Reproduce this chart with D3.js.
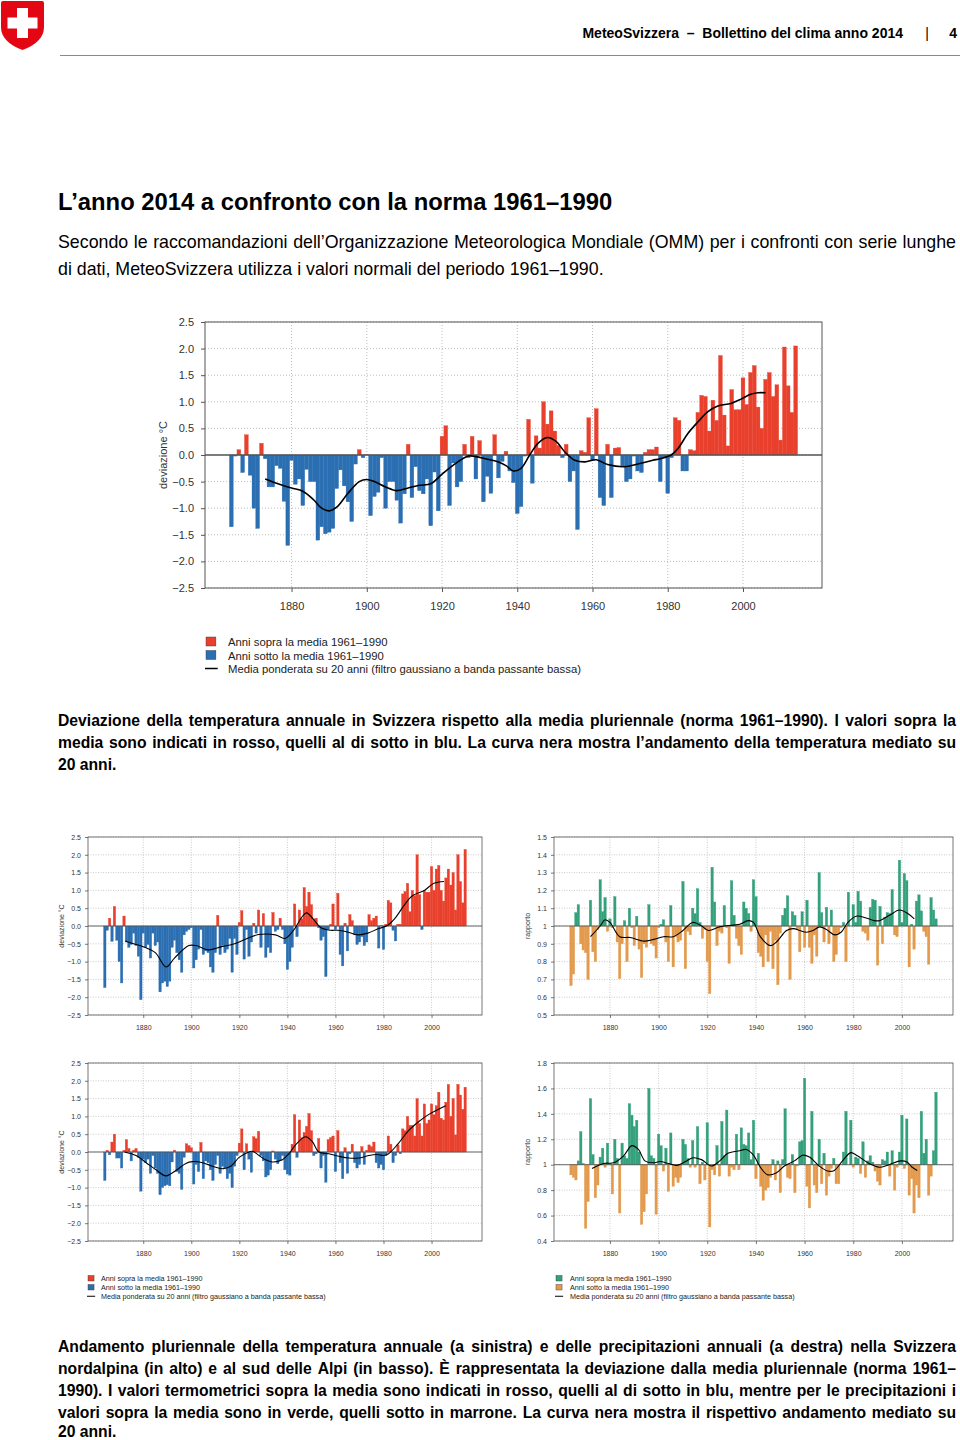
<!DOCTYPE html>
<html><head><meta charset="utf-8">
<script src="https://cdn.jsdelivr.net/npm/d3@7"></script>
<style>
body{margin:0;background:#fff;}
svg{display:block;}
</style></head>
<body>
<svg id="svg" width="960" height="1440"></svg>
<script>
// ---------------- DATA ----------------
const firstYear = 1864, lastYear = 2014;
const years = d3.range(firstYear, lastYear + 1);
const xTickYears = [1880, 1900, 1920, 1940, 1960, 1980, 2000];

const tempTicks = [-2.5, -2.0, -1.5, -1.0, -0.5, 0.0, 0.5, 1.0, 1.5, 2.0, 2.5];
const precNTicks = [0.5, 0.6, 0.7, 0.8, 0.9, 1.0, 1.1, 1.2, 1.3, 1.4, 1.5];
const precSTicks = [0.4, 0.6, 0.8, 1.0, 1.2, 1.4, 1.6, 1.8];

// Switzerland, annual temperature deviation (°C), 1864-2014
const tempCH = [
  -1.35,-0.02,0.1,-0.33,0.38,-0.38,
  -1.0,-1.38,0.22,-0.07,-0.6,-0.6,-0.2,-0.25,-0.87,-1.7,
  -0.1,-0.55,-0.45,-0.95,-0.27,-0.5,-0.5,-1.6,-1.35,-1.48,
  -1.45,-1.38,-0.63,-0.28,-0.58,-0.88,-1.25,-0.17,0.1,-0.05,
  0.01,-1.14,-0.78,-0.7,-0.05,-1.0,-0.5,-0.5,-0.85,-1.28,
  -0.73,0.2,-0.8,-0.22,-0.67,-0.73,-0.45,-1.33,-0.32,-1.05,
  0.35,0.55,-0.95,-0.15,-0.6,-0.5,0.2,-0.05,0.35,-0.45,
  0.27,-0.88,-0.4,-0.72,0.38,-0.43,-0.12,0.07,-0.3,-0.52,
  -1.1,-0.97,-0.02,0.67,-0.53,0.36,0.13,1.0,0.58,0.83,
  0.45,0.18,-0.05,0.2,-0.5,-0.3,-1.4,0.08,0.05,0.7,
  -0.1,0.87,-0.8,-0.95,0.2,-0.8,0.13,0.14,-0.22,-0.5,
  -0.45,-0.02,-0.3,-0.33,0.05,0.1,0.1,0.15,-0.5,-0.05,
  -0.72,-0.05,0.7,0.65,-0.3,-0.3,0.1,0.08,0.8,1.12,
  1.1,0.45,1.03,0.65,1.87,0.75,0.17,1.23,0.85,0.85,
  1.45,0.95,1.55,1.68,0.9,0.5,1.42,1.55,1.1,1.32,
  0.28,2.03,1.3,0.8,2.05
];
const curveCH = [
  [1873,-0.45],[1876,-0.53],[1880,-0.62],[1883,-0.68],[1886,-0.85],[1888,-1.0],[1890,-1.05],[1892,-0.98],
  [1895,-0.72],[1898,-0.5],[1900,-0.46],[1902,-0.5],[1905,-0.6],[1908,-0.67],[1911,-0.62],[1914,-0.57],
  [1917,-0.54],[1920,-0.36],[1923,-0.19],[1927,-0.02],[1929,-0.03],[1932,-0.08],[1935,-0.13],[1937,-0.2],
  [1939,-0.3],[1941,-0.25],[1943.3,0],[1945.5,0.22],[1948,0.33],[1950.4,0.25],[1952.6,0.06],[1955.3,-0.1],
  [1958,-0.13],[1961,-0.09],[1964,-0.18],[1968.5,-0.22],[1972,-0.17],[1976,-0.1],[1978,-0.07],[1980.9,0],
  [1982.7,0.12],[1985.3,0.4],[1988,0.62],[1990.6,0.81],[1993.3,0.92],[1996.8,0.97],[1999.5,1.05],
  [2002,1.14],[2004,1.17],[2006,1.17]
];

// North of the Alps, temperature deviation (°C)
const tempN = [
  -1.73,-0.12,0.22,-0.43,0.55,-0.4,
  -1.0,-1.6,0.28,-0.45,-0.6,-0.52,-0.2,-0.55,-0.85,-2.07,
  -0.2,-0.6,-0.52,-0.9,-0.2,-0.55,-0.45,-1.85,-1.6,-1.55,
  -1.7,-1.55,-0.6,-0.4,-0.75,-0.95,-1.3,-0.25,-0.15,-0.1,
  -0.05,-1.18,-0.95,-0.65,-0.1,-0.8,-0.7,-0.75,-1.15,-1.3,
  -0.75,0.3,-0.8,-0.55,-0.75,-0.65,-0.35,-1.3,-0.35,-0.8,
  0.1,0.43,-0.93,-0.1,-0.85,-0.45,0.08,-0.2,0.45,-0.6,
  0.35,-0.88,-0.6,-0.75,0.38,-0.15,-0.1,0.22,-0.1,-0.5,
  -1.22,-1.0,-0.6,0.62,-0.3,0.45,0.2,1.08,0.55,0.95,
  0.6,0.2,0.22,-0.05,-0.4,-0.3,-1.42,-0.1,0.05,0.62,
  -0.1,0.92,-0.8,-1.12,0.08,-0.7,0.32,0.15,-0.25,-0.52,
  -0.45,-0.3,-0.55,-0.45,0.32,0.15,0.22,0.28,-0.62,0.02,
  -0.66,0.05,0.72,0.65,-0.12,-0.42,0.05,0.05,0.9,0.97,
  1.2,0.4,1.0,0.85,2.0,0.88,-0.1,1.0,0.95,0.95,
  1.67,1.0,1.6,1.7,1.0,0.7,1.35,1.6,1.15,1.5,
  0.45,2.0,1.25,0.65,2.15
];
const curveTN = [
  [1872.5,-0.42],[1876,-0.5],[1880,-0.58],[1885,-0.75],[1889.5,-1.15],[1893,-0.9],[1899,-0.55],[1902,-0.55],
  [1907,-0.67],[1912.7,-0.58],[1918,-0.5],[1924,-0.33],[1928,-0.24],[1935,-0.25],[1939,-0.35],[1943,-0.08],
  [1946,0.25],[1948,0.37],[1950.7,0.2],[1954,-0.05],[1958,-0.12],[1961,-0.12],[1965,-0.17],[1969.4,-0.25],
  [1973.5,-0.2],[1977.7,-0.08],[1981.8,0.02],[1984.6,0.2],[1988.8,0.6],[1992,0.85],[1997,1.0],[2001,1.2],
  [2005.2,1.25]
];

// North of the Alps, precipitation ratio
const precN = [
  0.665,0.73,1.075,1.12,0.9,0.865,
  0.85,0.7,1.145,0.855,0.8,0.98,1.26,1.08,1.16,0.97,
  1.04,0.99,1.165,0.91,0.705,0.9,1.03,0.8,1.1,0.99,
  0.89,1.055,0.87,0.71,0.9,0.88,1.12,0.9,0.89,0.82,
  0.99,1.01,1.035,0.91,0.8,1.115,0.77,0.94,0.91,0.92,
  1.25,0.76,0.97,0.95,1.1,1.07,1.21,1.02,0.93,0.98,
  0.8,0.62,1.33,1.135,0.89,0.97,0.96,1.115,0.99,0.79,
  1.255,1.06,0.93,0.89,0.84,1.135,1.1,1.07,0.97,1.26,
  1.165,0.85,0.83,0.77,0.95,0.8,0.97,0.76,0.92,0.67,
  0.96,1.06,1.1,1.17,0.7,1.08,1.06,0.98,0.855,1.08,
  0.88,1.145,0.88,0.79,0.95,0.83,1.3,1.075,0.91,1.105,
  0.9,1.09,0.8,0.84,0.96,0.99,1.02,0.8,1.19,1.0,
  1.12,1.02,1.195,1.14,0.97,0.96,0.92,1.105,1.15,1.145,
  0.78,1.11,0.9,1.05,1.075,1.07,1.205,0.95,0.94,1.37,
  1.02,1.295,1.255,0.77,1.01,0.87,1.14,1.175,1.085,0.97,
  0.94,0.785,1.16,1.09,1.04
];
const curvePN = [
  [1872,0.94],[1876,1.0],[1878,1.035],[1880,1.02],[1884,0.94],[1888.3,0.935],[1894,0.915],[1898,0.925],
  [1902,0.94],[1906,0.94],[1910,0.975],[1914,1.02],[1917.7,1.0],[1920.5,0.975],[1925,0.995],[1930.6,1.005],
  [1933.4,1.01],[1936.8,1.03],[1939,1.02],[1941.8,0.94],[1946,0.89],[1948.4,0.91],[1952.6,0.975],
  [1955.4,0.985],[1958,0.975],[1960.7,0.965],[1963.5,0.975],[1966.2,0.995],[1969,0.98],[1972.4,0.95],
  [1975,0.965],[1977.8,1.02],[1981.2,1.055],[1985.3,1.045],[1988.7,1.03],[1990.8,1.03],[1994.9,1.06],
  [1999,1.09],[2002.4,1.07],[2005.1,1.04]
];

// South of the Alps, temperature deviation (°C)
const tempS = [
  -0.8,0.05,-0.08,0.28,0.5,-0.17,
  -0.17,-0.45,0.05,0.35,0.1,-0.25,0.05,0.1,-0.15,-1.1,
  -0.2,-0.3,-0.2,-0.6,-0.1,-0.45,-0.6,-1.2,-1.0,-0.95,
  -0.92,-0.95,-0.28,0.05,-0.55,-0.6,-1.05,-0.15,0.23,0.18,
  0.12,-0.9,-0.35,-0.55,0.27,-0.75,-0.25,-0.3,-0.5,-0.8,
  -0.35,-0.1,-0.6,-0.4,-0.45,-0.75,-0.6,-1.0,-0.4,-0.1,
  0.25,0.65,-0.5,0.23,-0.2,-0.57,0.43,0.38,0.58,-0.1,
  -0.25,-0.7,-0.65,-0.5,0.03,-0.2,-0.33,-0.25,-0.1,-0.5,
  -0.62,-0.65,0.22,1.05,-0.15,0.9,0.4,0.55,0.72,1.08,
  0.6,-0.1,-0.05,0.38,-0.45,-0.1,-0.85,0.35,0.4,0.45,
  -0.55,0.6,-0.3,-0.75,0.12,-0.6,-0.05,0.22,-0.3,-0.45,
  -0.35,0.15,-0.35,0.05,0.2,0.15,0.28,-0.3,-0.45,-0.35,
  -0.5,-0.1,0.45,0.22,-0.3,-0.1,0.2,-0.05,0.65,0.6,
  1.0,0.75,0.75,0.45,1.5,0.8,0.45,1.35,0.8,0.9,
  1.35,1.05,1.3,1.68,0.95,0.9,1.4,1.9,1.0,1.5,
  0.48,1.9,1.6,1.2,1.82
];
const curveTS = [
  [1872.2,0.0],[1877,-0.1],[1881.2,-0.3],[1885.3,-0.5],[1889.4,-0.67],[1893.6,-0.52],[1897.7,-0.32],
  [1900.5,-0.27],[1904.7,-0.3],[1908.8,-0.4],[1913,-0.47],[1916.4,-0.4],[1919.9,-0.15],[1923.3,-0.02],
  [1925.4,0.02],[1928.2,-0.1],[1930.9,-0.22],[1933.7,-0.28],[1937.9,-0.22],[1940.6,-0.05],[1943.4,0.2],
  [1947.5,0.43],[1950.3,0.3],[1953.1,0.0],[1957.2,-0.05],[1961.4,-0.12],[1965.5,-0.17],[1969.7,-0.17],
  [1973.8,-0.1],[1977.3,-0.07],[1980,-0.1],[1982.1,-0.05],[1986.3,0.25],[1990.4,0.6],[1994.6,0.85],
  [1998.7,1.05],[2002.9,1.2],[2005.9,1.3]
];

// South of the Alps, precipitation ratio
const precS = [
  0.92,0.9,0.88,1.03,1.26,1.01,
  0.5,0.71,1.52,1.08,0.74,0.84,1.06,1.13,0.98,1.17,
  1.01,0.77,1.2,1.05,0.62,1.17,1.07,1.05,1.48,1.39,
  1.3,1.35,1.1,0.53,0.63,0.77,1.6,1.07,1.05,0.61,
  1.24,1.15,0.95,1.13,0.79,1.25,0.83,0.9,0.86,0.9,
  1.2,1.16,1.05,0.98,1.19,0.98,1.3,0.85,1.02,0.88,
  1.33,0.51,0.96,0.92,1.15,0.91,1.34,1.07,1.43,0.91,
  0.98,0.96,1.24,0.96,1.29,1.16,1.15,1.25,1.04,1.35,
  0.89,1.09,0.83,0.72,0.8,0.82,0.9,1.04,0.88,1.03,
  0.78,1.04,1.44,0.9,0.89,1.08,0.78,0.99,1.18,1.19,
  1.68,0.83,0.66,1.42,0.84,0.78,1.2,0.85,1.09,0.76,
  0.91,0.97,1.05,0.85,0.85,1.0,1.1,1.42,1.0,1.35,
  0.98,1.06,1.05,0.93,1.18,0.9,1.03,1.07,1.02,0.95,
  0.87,0.84,1.04,1.03,1.1,0.91,1.11,0.8,0.98,1.1,
  1.39,0.97,1.36,0.76,0.89,0.62,0.84,0.74,1.42,1.09,
  1.2,0.76,0.91,1.11,1.57
];
const curvePS = [
  [1872.6,0.97],[1877.4,1.01],[1881.5,1.015],[1885.6,1.07],[1889,1.15],[1891.7,1.12],[1894.4,1.03],
  [1897.8,1.015],[1900.6,1.025],[1904,1.01],[1907.4,0.995],[1911.5,1.03],[1914.2,1.055],[1917.6,1.04],
  [1921.7,0.99],[1925.1,1.03],[1928.5,1.09],[1933.3,1.11],[1936,1.12],[1938.8,1.08],[1942.2,0.97],
  [1944.9,0.92],[1948.3,0.935],[1951.7,0.99],[1955.8,1.03],[1959.2,1.075],[1962,1.06],[1966,0.99],
  [1969.5,0.95],[1972.2,0.955],[1975.6,1.03],[1979,1.095],[1981.7,1.07],[1986.5,1.01],[1990.6,0.98],
  [1994.7,1.0],[1999.5,1.03],[2002.2,1.02],[2004.2,0.98],[2006.3,0.955]
];

const legendTemp = ["Anni sopra la media 1961\u20131990", "Anni sotto la media 1961\u20131990",
  "Media ponderata su 20 anni (filtro gaussiano a banda passante bassa)"];

// ---------------- STYLE ----------------
const FONT = '"Liberation Sans", Arial, Helvetica, sans-serif';
const RED = "#e8402c", BLUE = "#2b6fb2", GREEN = "#34a17c", ORANGE = "#e39a4c";
const svg = d3.select("#svg");

// ---------------- HEADER ----------------
const logo = svg.append("g");
logo.append("path")
  .attr("d", "M1,3 Q1,1 3,1 L42,1 Q44,1 44,3 L44,27 Q44,42 22.5,50 Q1,42 1,27 Z")
  .attr("fill", "#e30613");
logo.append("rect").attr("x", 17).attr("y", 8).attr("width", 11).attr("height", 30).attr("fill", "#fff");
logo.append("rect").attr("x", 7.5).attr("y", 17.5).attr("width", 30).attr("height", 11).attr("fill", "#fff");

function txt(str, x, y, size, weight, anchor, fill) {
  return svg.append("text").attr("x", x).attr("y", y).text(str)
    .attr("font-family", FONT).attr("font-size", size).attr("font-weight", weight || "normal")
    .attr("text-anchor", anchor || "start").attr("fill", fill || "#000");
}
txt("MeteoSvizzera  \u2013  Bollettino del clima anno 2014", 903, 38, 14, "bold", "end").attr("xml:space", "preserve");
txt("|", 927, 38, 14, "normal", "middle");
txt("4", 957, 38, 14, "bold", "end");
svg.append("line").attr("x1", 60).attr("x2", 960).attr("y1", 55.5).attr("y2", 55.5)
  .attr("stroke", "#8a8a8a").attr("stroke-width", 1);

// justified text line
function textLine(str, x, y, size, weight, width) {
  if (!width) return txt(str, x, y, size, weight);
  const words = str.split(" ");
  let els = words.map(w => txt(w, x, y, size, weight));
  let ws = els.map(e => e.node().getComputedTextLength());
  let gap = (width - d3.sum(ws)) / (words.length - 1);
  if (gap < 3) { // shrink font so the line fits with minimal spacing
    const s = size * (width - 3 * (words.length - 1)) / d3.sum(ws);
    els.forEach(e => e.attr("font-size", s));
    ws = els.map(e => e.node().getComputedTextLength());
    gap = (width - d3.sum(ws)) / (words.length - 1);
  }
  let cx = x;
  els.forEach((e, i) => { e.attr("x", cx); cx += ws[i] + gap; });
}

txt("L\u2019anno 2014 a confronto con la norma 1961\u20131990", 58, 210, 23.8, "bold");
textLine("Secondo le raccomandazioni dell\u2019Organizzazione Meteorologica Mondiale (OMM) per i confronti con serie lunghe", 58, 248, 17.8, "normal", 898);
textLine("di dati, MeteoSvizzera utilizza i valori normali del periodo 1961\u20131990.", 58, 275, 17.8, "normal");

const CS = 15.7;
textLine("Deviazione della temperatura annuale in Svizzera rispetto alla media pluriennale (norma 1961\u20131990). I valori sopra la", 58, 726, CS, "bold", 898);
textLine("media sono indicati in rosso, quelli al di sotto in blu. La curva nera mostra l\u2019andamento della temperatura mediato su", 58, 748, CS, "bold", 898);
textLine("20 anni.", 58, 770, CS, "bold");

textLine("Andamento pluriennale della temperatura annuale (a sinistra) e delle precipitazioni annuali (a destra) nella Svizzera", 58, 1352, CS, "bold", 898);
textLine("nordalpina (in alto) e al sud delle Alpi (in basso). \u00C8 rappresentata la deviazione dalla media pluriennale (norma 1961\u2013", 58, 1374, CS, "bold", 898);
textLine("1990). I valori termometrici sopra la media sono indicati in rosso, quelli al di sotto in blu, mentre per le precipitazioni i", 58, 1396, CS, "bold", 898);
textLine("valori sopra la media sono in verde, quelli sotto in marrone. La curva nera mostra il rispettivo andamento mediato su", 58, 1418, CS, "bold", 898);
textLine("20 anni.", 58, 1437, CS, "bold");

// ---------------- CHARTS ----------------
function drawChart(c) {
  const g = svg.append("g");
  const x = d3.scaleLinear().domain([1857, 2021]).range([c.x0, c.x1]);
  const y = d3.scaleLinear().domain(c.yDomain).range([c.y1, c.y0]);

  // grid
  g.selectAll("line.hg").data(c.yTicks).join("line")
    .attr("x1", c.x0).attr("x2", c.x1).attr("y1", d => y(d)).attr("y2", d => y(d))
    .attr("stroke", "#b5b5b5").attr("stroke-width", c.grid).attr("stroke-dasharray", c.dash);
  g.selectAll("line.vg").data(xTickYears).join("line")
    .attr("x1", d => x(d)).attr("x2", d => x(d)).attr("y1", c.y0).attr("y2", c.y1)
    .attr("stroke", "#b5b5b5").attr("stroke-width", c.grid).attr("stroke-dasharray", c.dash);

  // bars
  const rows = c.values.map((v, i) => ({ year: years[i], v }));
  g.selectAll("rect.bar").data(rows).join("rect")
    .attr("x", d => x(d.year - 0.5)).attr("width", d => x(d.year + 0.5) - x(d.year - 0.5))
    .attr("y", d => y(Math.max(d.v, c.base)))
    .attr("height", d => Math.abs(y(d.v) - y(c.base)))
    .attr("fill", d => d.v >= c.base ? c.up : c.down)
    .attr("stroke", d => d.v >= c.base ? c.up : c.down).attr("stroke-width", 0.35);

  // base line
  g.append("line").attr("x1", c.x0).attr("x2", c.x1).attr("y1", y(c.base)).attr("y2", y(c.base))
    .attr("stroke", "#555").attr("stroke-width", c.lw * 0.8);

  // smoothed curve
  g.append("path").datum(c.curve)
    .attr("d", d3.line().x(d => x(d[0])).y(d => y(d[1])).curve(d3.curveCatmullRom.alpha(0.5)))
    .attr("fill", "none").attr("stroke", "#000").attr("stroke-width", c.lw);

  // frame
  g.append("rect").attr("x", c.x0).attr("y", c.y0).attr("width", c.x1 - c.x0).attr("height", c.y1 - c.y0)
    .attr("fill", "none").attr("stroke", "#555").attr("stroke-width", c.frame);

  // axes
  const ya = g.append("g").attr("transform", `translate(${c.x0},0)`)
    .call(d3.axisLeft(y).tickValues(c.yTicks).tickFormat(c.fmt).tickSize(c.tick).tickPadding(c.pad));
  const xa = g.append("g").attr("transform", `translate(0,${c.y1})`)
    .call(d3.axisBottom(x).tickValues(xTickYears).tickFormat(d3.format("d")).tickSize(c.tick).tickPadding(c.xpad));
  [ya, xa].forEach(a => {
    a.select(".domain").remove();
    a.selectAll("line").attr("stroke", "#555").attr("stroke-width", c.frame);
    a.selectAll("text").attr("font-family", FONT).attr("font-size", c.fs).attr("fill", "#333");
  });
  g.append("text").attr("transform", `translate(${c.labX},${(c.y0 + c.y1) / 2}) rotate(-90)`)
    .attr("text-anchor", "middle").attr("font-family", FONT).attr("font-size", c.fs).attr("fill", "#333")
    .text(c.yLabel);
}

const tFmt = d3.format(".1f");
const pFmt = d => Math.abs(d - 1) < 1e-9 ? "1" : d3.format(".1f")(d);

const big = { tick: 4, pad: 7, xpad: 10, fs: 11, lw: 1.6, frame: 1, grid: 0.9, dash: "1,2" };
const small = { tick: 3, pad: 4, xpad: 7, fs: 7, lw: 1.1, frame: 0.8, grid: 0.7, dash: "1,1.5" };

drawChart(Object.assign({}, big, { x0: 205, x1: 822, y0: 322, y1: 588, yDomain: [-2.5, 2.5], yTicks: tempTicks,
  fmt: tFmt, base: 0, values: tempCH, curve: curveCH, up: RED, down: BLUE, yLabel: "deviazione \u00B0C", labX: 167 }));

drawChart(Object.assign({}, small, { x0: 88, x1: 482, y0: 837, y1: 1015, yDomain: [-2.5, 2.5], yTicks: tempTicks,
  fmt: tFmt, base: 0, values: tempN, curve: curveTN, up: RED, down: BLUE, yLabel: "deviazione \u00B0C", labX: 64 }));
drawChart(Object.assign({}, small, { x0: 554, x1: 953, y0: 837, y1: 1015, yDomain: [0.5, 1.5], yTicks: precNTicks,
  fmt: pFmt, base: 1, values: precN, curve: curvePN, up: GREEN, down: ORANGE, yLabel: "rapporto", labX: 530 }));
drawChart(Object.assign({}, small, { x0: 88, x1: 482, y0: 1063, y1: 1241, yDomain: [-2.5, 2.5], yTicks: tempTicks,
  fmt: tFmt, base: 0, values: tempS, curve: curveTS, up: RED, down: BLUE, yLabel: "deviazione \u00B0C", labX: 64 }));
drawChart(Object.assign({}, small, { x0: 554, x1: 953, y0: 1063, y1: 1241, yDomain: [0.4, 1.8], yTicks: precSTicks,
  fmt: pFmt, base: 1, values: precS, curve: curvePS, up: GREEN, down: ORANGE, yLabel: "rapporto", labX: 530 }));

// ---------------- LEGENDS ----------------
function legend(x, ys, sq, textX, fs, colors) {
  const g = svg.append("g");
  colors.forEach((col, i) => {
    g.append("rect").attr("x", x).attr("y", ys[i] - sq).attr("width", sq * 1.1).attr("height", sq)
      .attr("fill", col).attr("stroke", "#333").attr("stroke-width", 0.4);
  });
  g.append("line").attr("x1", x - 1).attr("x2", x + sq * 1.3).attr("y1", ys[2] - sq / 2).attr("y2", ys[2] - sq / 2)
    .attr("stroke", "#000").attr("stroke-width", fs > 9 ? 1.5 : 1);
  legendTemp.forEach((t, i) => {
    g.append("text").attr("x", textX).attr("y", ys[i]).attr("font-family", FONT).attr("font-size", fs)
      .attr("fill", "#222").text(t);
  });
}
legend(206, [646, 659.5, 673], 9, 228, 11.3, [RED, BLUE]);
legend(88, [1281, 1290, 1299], 5.5, 101, 7.2, [RED, BLUE]);
legend(556, [1281, 1290, 1299], 5.5, 570, 7.2, [GREEN, ORANGE]);
</script>
</body></html>
